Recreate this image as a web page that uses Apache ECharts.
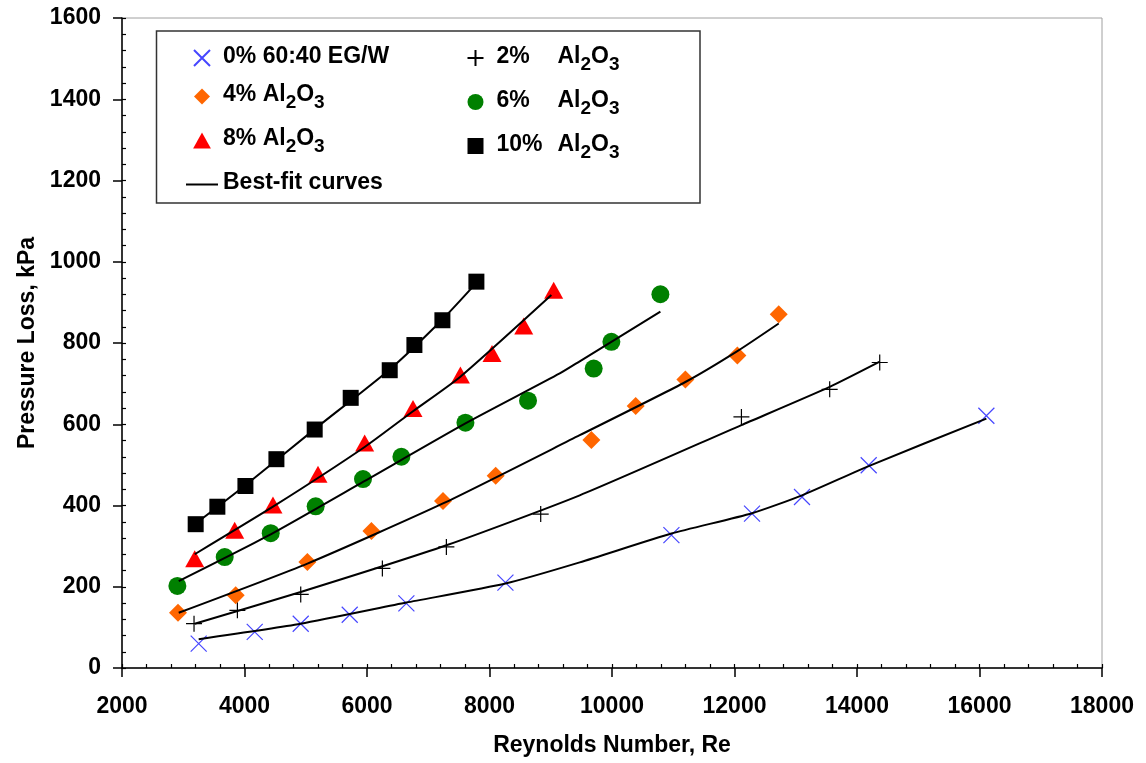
<!DOCTYPE html>
<html>
<head>
<meta charset="utf-8">
<script src="https://cdn.jsdelivr.net/npm/echarts@6/dist/echarts.min.js"></script>
<style>
    html, body { margin: 0; padding: 0; background: #fff; }
    #chart { width: 1146px; height: 763px; }
</style>
</head>
<body>
<div id="chart"></div>
<script>
// measured points (Re, kPa)
var re0 = [3252, 4167, 4918, 5718, 6643, 8260, 10970, 12286, 13102, 14191, 16112];
var dp0 = [60, 89, 109, 131, 159, 210, 327, 380, 421, 499, 621];
var re2 = [3176, 3884, 4918, 6251, 7296, 8836, 12113, 13554, 14371];
var dp2 = [109, 142, 181, 245, 298, 379, 618, 686, 752];
var re4 = [2914, 3856, 5027, 6072, 7241, 8101, 9663, 10387, 11198, 12047, 12722];
var dp4 = [136, 179, 261, 337, 411, 473, 561, 645, 710, 769, 871];
var re6 = [2904, 3677, 4428, 5162, 5935, 6561, 7607, 8629, 9701, 9990, 10790];
var dp6 = [202, 273, 332, 398, 465, 520, 604, 658, 737, 803, 920];
var re8 = [3187, 3840, 4465, 5200, 5962, 6751, 7525, 8041, 8559, 9048];
var dp8 = [269, 339, 401, 477, 554, 639, 721, 774, 842, 930];
var re10 = [3203, 3557, 4015, 4521, 5146, 5734, 6371, 6774, 7231, 7786];
var dp10 = [354, 397, 448, 514, 587, 665, 733, 795, 856, 951];

// best-fit curves
var fitRe0 = [3252, 4918, 6643, 8260, 9473, 10970, 12286, 13102, 14191, 16112];
var fitDp0 = [71, 109, 161, 208, 260, 331, 381, 425, 497, 614];
var fitRe2 = [3187, 4918, 7296, 9473, 12113, 13554, 14371];
var fitDp2 = [109, 187, 302, 425, 598, 692, 754];
var fitRe4 = [2926, 5027, 7241, 9473, 11198, 12047, 12722];
var fitDp4 = [136, 257, 405, 573, 704, 780, 848];
var fitRe6 = [2926, 4428, 5935, 7607, 9147, 9473, 10790];
var fitDp6 = [214, 329, 458, 602, 725, 755, 877];
var fitRe8 = [3187, 4465, 5962, 6751, 7525, 9010];
var fitDp8 = [280, 397, 544, 632, 717, 918];
var fitRe10 = [3206, 4015, 5146, 6371, 7231, 7786];
var fitDp10 = [356, 450, 588, 735, 858, 948];

var names = ['0% 60:40 EG/W', '2% Al2O3', '4% Al2O3', '6% Al2O3', '8% Al2O3', '10% Al2O3'];
var fitName = 'Best-fit curves';

function pairs(xs, ys) {
    var out = [];
    for (var i = 0; i < xs.length; i++) {
        out.push([xs[i], ys[i]]);
    }
    return out;
}

var FONT = 'Liberation Sans';
var crossPath = 'path://M0,0L10,10M10,0L0,10';
var plusPath = 'path://M5,0L5,10M0,5L10,5';
var diamondPath = 'path://M5,0L10,5L5,10L0,5Z';
var trianglePath = 'path://M5,0L10,9L0,9Z';
var squarePath = 'path://M0,0L10,0L10,10L0,10Z';
var linePath = 'path://M0,0L32,0L32,2L0,2Z';

var chart = echarts.init(document.getElementById('chart'));

var txt = { fontFamily: FONT, fontWeight: 'bold', fontSize: 23, color: '#000' };
var rich = {
    t: { fontFamily: FONT, fontWeight: 'bold', fontSize: 23, color: '#000', lineHeight: 26, verticalAlign: 'top' },
    p: { fontFamily: FONT, fontWeight: 'bold', fontSize: 23, color: '#000', lineHeight: 26, verticalAlign: 'top', width: 61 },
    s: { fontFamily: FONT, fontWeight: 'bold', fontSize: 19, color: '#000', lineHeight: 26, verticalAlign: 'top', padding: [10, 0, 0, 0] }
};

function legendLabel(name) {
    if (name.indexOf('Al2O3') < 0) {
        return '{t|' + name + '}';
    }
    var pct = name.split(' ')[0];
    var head = (pct === '4%' || pct === '8%') ? '{t|' + pct + ' Al}' : '{p|' + pct + '}{t|Al}';
    return head + '{s|2}{t|O}{s|3}';
}

function scatter(name, xs, ys, symbol, size, style) {
    style.opacity = 1;
    return {
        name: name,
        type: 'scatter',
        data: pairs(xs, ys),
        symbol: symbol,
        symbolSize: size,
        itemStyle: style,
        z: 2
    };
}

function fit(xs, ys) {
    return {
        name: fitName,
        type: 'line',
        data: pairs(xs, ys),
        smooth: 0.2,
        showSymbol: false,
        symbol: 'none',
        lineStyle: { color: '#000', width: 2 },
        itemStyle: { color: '#000' },
        z: 5
    };
}

var legendBase = {
    orient: 'vertical',
    itemWidth: 32,
    itemHeight: 16,
    itemGap: 15,
    padding: 0,
    selectedMode: false,
    formatter: legendLabel,
    textStyle: { fontFamily: FONT, fontWeight: 'bold', fontSize: 23, color: '#000', rich: rich }
};

var option = {
    animation: false,
    backgroundColor: '#fff',
    textStyle: { fontFamily: FONT },
    grid: {
        left: 122, right: 44, top: 18, bottom: 95,
        show: true, borderColor: '#a0a0a0', borderWidth: 1
    },
    graphic: [{
        type: 'rect',
        shape: { x: 156.5, y: 31, width: 543.5, height: 172 },
        style: { fill: '#fff', stroke: '#333', lineWidth: 1.5 },
        z: 10
    }],
    legend: [
        echarts.util.merge({
            left: 186, top: 45, z: 11,
            data: [names[0], names[2], names[4], { name: fitName, icon: linePath }]
        }, legendBase, false),
        echarts.util.merge({
            left: 465, top: 45, z: 11,
            data: [names[1], names[3], names[5]]
        }, legendBase, false)
    ],
    xAxis: [{
        type: 'value', min: 2000, max: 18000, interval: 2000,
        position: 'bottom',
        name: 'Reynolds Number, Re', nameLocation: 'middle', nameGap: 66,
        nameTextStyle: txt,
        axisLine: { lineStyle: { color: '#000', width: 1.5 } },
        axisTick: { inside: false, length: 9, lineStyle: { color: '#000', width: 1.5 } },
        axisLabel: {
            margin: 27, fontFamily: FONT, fontWeight: 'bold', fontSize: 23, color: '#000',
            formatter: function (v) { return String(v); }
        },
        splitLine: { show: false }
    }, {
        type: 'value', min: 2000, max: 18000, interval: 400,
        position: 'bottom',
        axisLine: { show: false },
        axisTick: { inside: true, length: 4, lineStyle: { color: '#000', width: 1.2 } },
        axisLabel: { show: false },
        splitLine: { show: false }
    }],
    yAxis: [{
        type: 'value', min: 0, max: 1600, interval: 200,
        position: 'left',
        name: 'Pressure Loss, kPa', nameLocation: 'middle', nameGap: 82, nameRotate: 90,
        nameTextStyle: txt,
        axisLine: { lineStyle: { color: '#000', width: 1.5 } },
        axisTick: { inside: false, length: 9, lineStyle: { color: '#000', width: 1.5 } },
        axisLabel: {
            margin: 21, fontFamily: FONT, fontWeight: 'bold', fontSize: 23, color: '#000',
            formatter: function (v) { return String(v); }
        },
        splitLine: { show: false }
    }, {
        type: 'value', min: 0, max: 1600, interval: 40,
        position: 'left',
        axisLine: { show: false },
        axisTick: { inside: true, length: 4, lineStyle: { color: '#000', width: 1.2 } },
        axisLabel: { show: false },
        splitLine: { show: false }
    }],
    series: [
        scatter(names[0], re0, dp0, crossPath, 16, { color: 'none', borderColor: '#4646ff', borderWidth: 1.2 }),
        scatter(names[1], re2, dp2, plusPath, 16, { color: 'none', borderColor: '#000', borderWidth: 1.2 }),
        scatter(names[2], re4, dp4, diamondPath, 18, { color: '#ff6600' }),
        scatter(names[3], re6, dp6, 'circle', 18, { color: '#008000' }),
        scatter(names[4], re8, dp8, trianglePath, [19, 17], { color: '#ff0000' }),
        scatter(names[5], re10, dp10, squarePath, 16, { color: '#000' }),
        fit(fitRe0, fitDp0),
        fit(fitRe2, fitDp2),
        fit(fitRe4, fitDp4),
        fit(fitRe6, fitDp6),
        fit(fitRe8, fitDp8),
        fit(fitRe10, fitDp10)
    ]
};

chart.setOption(option);
</script>
</body>
</html>
